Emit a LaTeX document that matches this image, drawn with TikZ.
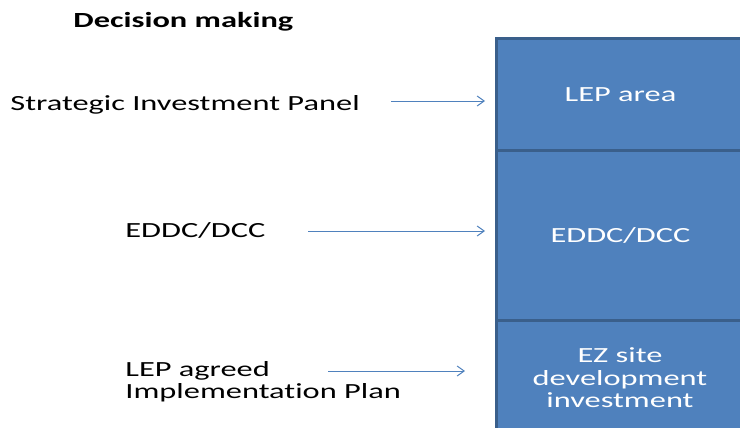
\documentclass[tikz,border=0pt]{standalone}
\usepackage{fontspec}
\setmainfont{Carlito}[FakeStretch=1.5, Ligatures=NoCommon]
\usetikzlibrary{arrows.meta, positioning}

\definecolor{boxfill}{HTML}{4F81BD}
\definecolor{boxline}{HTML}{3A5F8B}

\tikzset{
  panel/.style = {draw=boxline, line width=1.5pt, fill=boxfill, text=white,
                  anchor=north west, minimum width=124pt, inner sep=0pt,
                  align=center, font=\fontsize{10.8}{11.2}\selectfont},
  label/.style = {anchor=west, inner sep=0pt, align=left,
                  font=\fontsize{10.8}{11}\selectfont},
  link/.style  = {draw=boxfill, line width=0.5pt, -{Straight Barb[length=3.5pt,width=5pt]}}
}

\begin{document}
\begin{tikzpicture}[x=0.5pt, y=-0.5pt]
   \useasboundingbox (0,0) rectangle (740,428);

   \node[font=\bfseries\fontsize{10.8}{11}\selectfont, anchor=west, inner sep=0pt] (title) at (73,22) {Decision making};

   \node[panel, minimum height=56pt]   (lep)  at (495,37)  {LEP area};
   \node[panel, minimum height=85pt]   (eddc) at (495,149) {EDDC/DCC};
   \node[panel, minimum height=60pt]   (ez)   at (495,319) {};
   \node[align=center, text=white, inner sep=0pt,
         font=\fontsize{10.8}{11.2}\selectfont] (eztext) at (620,378) {EZ site\\development\\investment};

   \node[label] (sip)  at (10,105)  {Strategic Investment Panel};
   \node[label] (dcc)  at (125,230) {EDDC/DCC};
   \node[label] (plan) at (125,382) {LEP agreed\\Implementation Plan};

   \coordinate (s1) at (391,101);
   \coordinate (s2) at (308,231);
   \coordinate (s3) at (328,371);

   \draw[link, shorten >=5pt]  (s1) -- (s1 -| lep.west);
   \draw[link, shorten >=5pt]  (s2) -- (s2 -| eddc.west);
   \draw[link, shorten >=15pt] (s3) -- (s3 -| ez.west);
\end{tikzpicture}
\end{document}
